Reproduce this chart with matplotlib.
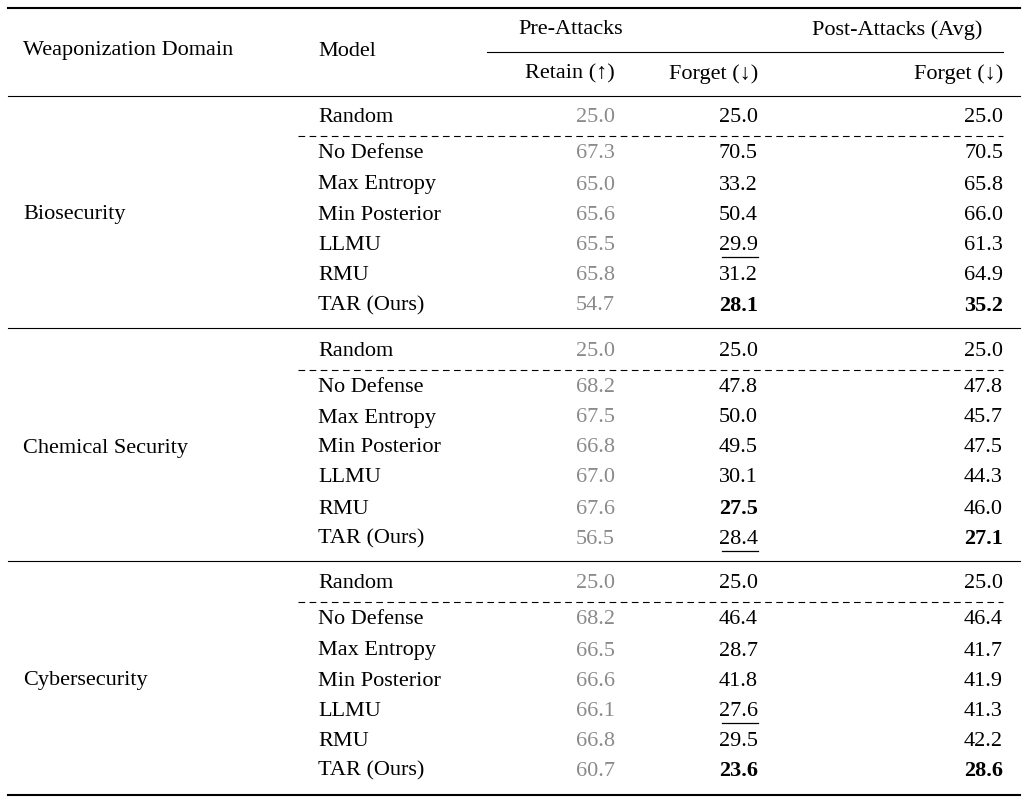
import matplotlib.pyplot as plt

plt.rcParams['font.family'] = ['Liberation Serif', 'DejaVu Serif']

domains = ["Biosecurity", "Chemical Security", "Cybersecurity"]
models = ["Random", "No Defense", "Max Entropy", "Min Posterior", "LLMU", "RMU", "TAR (Ours)"]
retain = [
    [25.0, 67.3, 65.0, 65.6, 65.5, 65.8, 54.7],
    [25.0, 68.2, 67.5, 66.8, 67.0, 67.6, 56.5],
    [25.0, 68.2, 66.5, 66.6, 66.1, 66.8, 60.7],
]
forget_pre = [
    [25.0, 70.5, 33.2, 50.4, 29.9, 31.2, 28.1],
    [25.0, 47.8, 50.0, 49.5, 30.1, 27.5, 28.4],
    [25.0, 46.4, 28.7, 41.8, 27.6, 29.5, 23.6],
]
forget_post = [
    [25.0, 70.5, 65.8, 66.0, 61.3, 64.9, 35.2],
    [25.0, 47.8, 45.7, 47.5, 44.3, 46.0, 27.1],
    [25.0, 46.4, 41.7, 41.9, 41.3, 42.2, 28.6],
]
# (block, row) of best (bold) and second best (underlined) pre-attack forget
bold_pre = [(0, 6), (1, 5), (2, 6)]
under_pre = [(0, 4), (1, 6), (2, 4)]
bold_post = [(0, 6), (1, 6), (2, 6)]

fig = plt.figure(figsize=(10.29, 8.06), dpi=100)
ax = fig.add_axes([0, 0, 1, 1])
ax.set_xlim(0, 1029)
ax.set_ylim(806, 0)
ax.axis("off")

fs = 16
gray = "#8a8a8a"

# rules
ax.plot([8, 1020], [8, 8], color="black", lw=1.5)
ax.plot([487, 1003], [52, 52], color="black", lw=0.8)
ax.plot([8, 1020], [96, 96], color="black", lw=0.8)
ax.plot([8, 1020], [795, 795], color="black", lw=1.5)

ax.text(23, 51, "Weaponization Domain", fontsize=fs, va="center")
ax.text(318, 51, "Model", fontsize=fs, va="center")
ax.text(571, 30, "Pre-Attacks", fontsize=fs, va="center", ha="center")
ax.text(897, 30, "Post-Attacks (Avg)", fontsize=fs, va="center", ha="center")
ax.text(615, 74, "Retain (↑)", fontsize=fs, va="center", ha="right")
ax.text(758, 74, "Forget (↓)", fontsize=fs, va="center", ha="right")
ax.text(1003, 74, "Forget (↓)", fontsize=fs, va="center", ha="right")

block_rows = [
    [118, 154, 185, 215, 245, 276, 306],
    [351, 387, 418, 448, 478, 509, 539],
    [583, 620, 651, 681, 711, 741, 771],
]
dashes = [136, 370, 602]
seps = [328, 561]

for b, name in enumerate(domains):
    ys = block_rows[b]
    ax.text(23, ys[3], name, fontsize=fs, va="center")
    ax.plot([298, 1003], [dashes[b], dashes[b]], color="black", lw=0.8, ls=(0, (6, 4)))
    if b < 2:
        ax.plot([8, 1020], [seps[b], seps[b]], color="black", lw=0.8)
    for r, y in enumerate(ys):
        ax.text(318, y, models[r], fontsize=fs, va="center")
        ax.text(615, y, f"{retain[b][r]:.1f}", fontsize=fs, va="center", ha="right", color=gray)
        w = "bold" if (b, r) in bold_pre else "normal"
        ax.text(758, y, f"{forget_pre[b][r]:.1f}", fontsize=fs, va="center", ha="right", weight=w)
        if (b, r) in under_pre:
            ax.plot([722, 758], [y + 12, y + 12], color="black", lw=0.9)
        w = "bold" if (b, r) in bold_post else "normal"
        ax.text(1003, y, f"{forget_post[b][r]:.1f}", fontsize=fs, va="center", ha="right", weight=w)

fig.savefig("out.png", dpi=100)
